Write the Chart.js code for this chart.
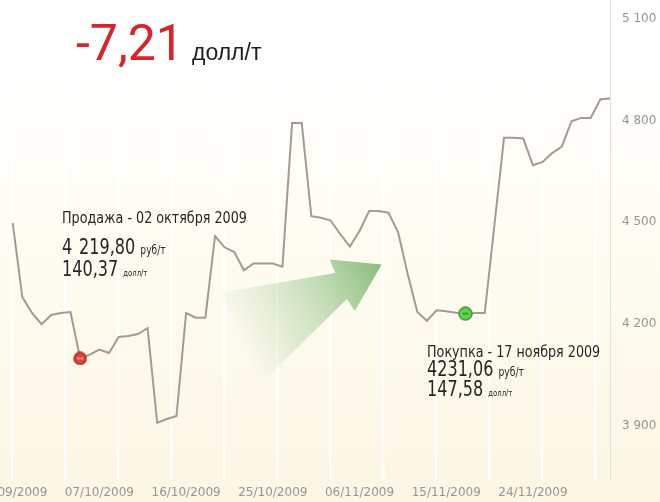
<!DOCTYPE html>
<html>
<head>
<meta charset="utf-8">
<script src="https://cdn.jsdelivr.net/npm/chart.js@4.4.1/dist/chart.umd.min.js"></script>
<style>
html,body{margin:0;padding:0;}
body{width:660px;height:502px;overflow:hidden;position:relative;
  background:linear-gradient(to bottom,#ffffff 0%,#ffffff 12%,#fefcf3 45%,#fcf6e3 100%);}
#wrap{position:absolute;left:-60px;top:0;width:720px;height:502px;}
.t{position:absolute;white-space:nowrap;color:#262626;transform-origin:0 0;
  font-family:"Liberation Sans Narrow","DejaVu Sans Condensed",sans-serif;}
.head{font-size:16px;line-height:16px;transform:scaleX(0.885);}
.num{font-size:21px;line-height:21px;transform:scaleX(0.85);}
.gap{margin-left:2px;}
.rub{font-size:12px;}
.usd{font-size:9px;}
#title{position:absolute;left:76px;top:18px;white-space:nowrap;
  font-family:Roboto,"Open Sans",sans-serif;font-size:50px;line-height:50px;color:#d8242b;}
#title span{font-family:"Liberation Sans",Arial,sans-serif;font-size:23px;color:#1e1e1e;margin-left:8px;}
</style>
</head>
<body>
<div id="wrap"><canvas id="chart"></canvas></div>

<div id="title">-7,21<span>долл/т</span></div>

<div class="t head" style="left:62px;top:209.5px;">Продажа - 02 октября 2009</div>
<div class="t num" style="left:62px;top:237px;">4<span class="gap"></span> 219,80 <span class="rub">руб/т</span></div>
<div class="t num" style="left:62px;top:259px;">140,37 <span class="usd">долл/т</span></div>

<div class="t head" style="left:427px;top:343.5px;">Покупка - 17 ноября 2009</div>
<div class="t num" style="left:427px;top:359px;">4231,06 <span class="rub">руб/т</span></div>
<div class="t num" style="left:427px;top:379px;">147,58 <span class="usd">долл/т</span></div>

<script>
// price, one value per trading row
const prices = [4498,4279,4232,4199,4226,4232,4235,4098,4109,4124,4114,4161,4164,4170,4187,
  3908,3919,3928,4232,4218,4218,4459,4426,4412,4358,4378,4378,4378,4369,4793,4793,
  4518,4513,4505,4465,4428,4474,4533,4533,4528,4471,4347,4235,4209,4240,4237,4233,
  4230,4232,4232,4491,4749,4749,4747,4668,4678,4704,4723,4798,4808,4808,4863,4865];
const dateTicks = ['28/09/2009','07/10/2009','16/10/2009','25/10/2009','06/11/2009','15/11/2009','24/11/2009'];
const tickStep = 9;
const yTicks = [3900,4200,4500,4800,5100];
const saleIndex = 7;
const buyIndex = 47;

const days = prices.map((_, i) => (i % tickStep === 0 && dateTicks[i / tickStep]) ? dateTicks[i / tickStep] : '');

// green arrow, in (row, price) units
const arrowShape = [[21.5,4292],[33.5,4350],[32.9,4390],[38.3,4375],[35.5,4237],[34.7,4273],[25.3,4011]];

function markerImage(fill, edge, dash, size){
  const c = document.createElement('canvas');
  c.width = c.height = size;
  const g = c.getContext('2d');
  const m = size / 2;
  g.beginPath(); g.arc(m, m, m - 1, 0, Math.PI * 2);
  g.fillStyle = fill; g.fill();
  g.lineWidth = 1.4; g.strokeStyle = edge; g.stroke();
  g.beginPath(); g.moveTo(m - 3, m); g.lineTo(m + 3, m);
  g.lineWidth = 1.5; g.strokeStyle = dash; g.stroke();
  return c;
}

const arrowPlugin = {
  id: 'arrow',
  beforeDatasetsDraw(chart){
    const ctx = chart.ctx, xs = chart.scales.xg, ys = chart.scales.y;
    const pts = arrowShape.map(p => [xs.getPixelForValue(p[0]), ys.getPixelForValue(p[1])]);
    const tail = [(pts[0][0] + pts[6][0]) / 2, (pts[0][1] + pts[6][1]) / 2];
    const tip = pts[3];
    const gr = ctx.createLinearGradient(tail[0], tail[1], tip[0], tip[1]);
    gr.addColorStop(0, 'rgba(150,195,135,0)');
    gr.addColorStop(0.5, 'rgba(135,188,122,0.4)');
    gr.addColorStop(1, 'rgba(118,176,106,0.85)');
    ctx.save();
    ctx.beginPath();
    pts.forEach((p, k) => k ? ctx.lineTo(p[0], p[1]) : ctx.moveTo(p[0], p[1]));
    ctx.closePath();
    ctx.fillStyle = gr;
    ctx.fill();
    ctx.restore();
  }
};

const axisFont = {family: 'DejaVu Sans', size: 12};

new Chart(document.getElementById('chart'), {
  type: 'line',
  data: {
    labels: days,
    datasets: [
      { data: prices, borderColor: '#a59a92', borderWidth: 2, pointRadius: 0, tension: 0, order: 2 },
      { data: prices.map((v, i) => i === saleIndex ? v : null), showLine: false, order: 1,
        pointStyle: markerImage('#e0433d', '#b3231e', 'rgba(255,200,190,0.9)', 14), pointRadius: 7 },
      { data: prices.map((v, i) => i === buyIndex ? v : null), showLine: false, order: 1,
        pointStyle: markerImage('#64d24f', '#33992b', '#2f8a26', 15), pointRadius: 7 }
    ]
  },
  options: {
    responsive: true,
    maintainAspectRatio: false,
    animation: false,
    layout: { autoPadding: false, padding: { left: 72.7, right: 0, top: 0, bottom: 0 } },
    plugins: { legend: { display: false }, tooltip: { enabled: false } },
    scales: {
      x: {
        type: 'category', offset: false,
        grid: { display: false, drawTicks: false }, border: { display: false },
        ticks: { autoSkip: false, maxRotation: 0, minRotation: 0, padding: 6, color: '#959595', font: axisFont },
        afterFit(s){ s.height = 22; s.paddingLeft = 0; s.paddingRight = 0; }
      },
      xg: {
        type: 'linear', position: 'bottom', min: 0, max: prices.length - 1,
        ticks: { display: false, stepSize: 5.5, includeBounds: false },
        grid: { color: 'rgba(255,255,255,0.85)', lineWidth: 2.5, drawTicks: false },
        border: { display: false },
        afterFit(s){ s.height = 0; s.paddingLeft = 0; s.paddingRight = 0; }
      },
      y: {
        position: 'right', min: 3739, max: 5156,
        grid: { display: false, drawTicks: false },
        border: { display: true, color: '#e6e2d8' },
        afterBuildTicks(s){ s.ticks = yTicks.map(v => ({ value: v })); },
        ticks: { padding: 12, color: '#959595', font: axisFont,
          callback: v => String(v).replace(/\B(?=(\d{3})+(?!\d))/g, ' ') },
        afterFit(s){ s.width = 50; s.paddingTop = 0; s.paddingBottom = 0; }
      }
    }
  },
  plugins: [arrowPlugin]
});
</script>
</body>
</html>
